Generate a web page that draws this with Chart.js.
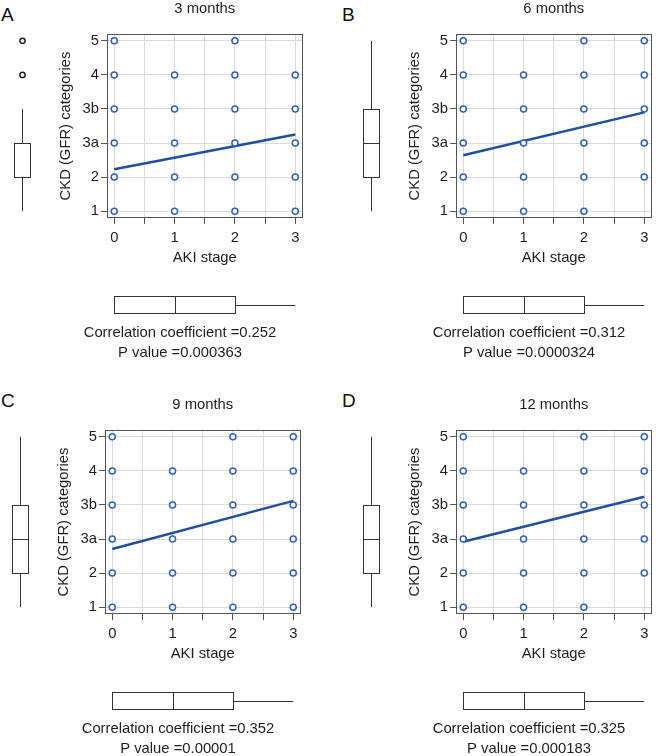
<!DOCTYPE html>
<html>
<head>
<meta charset="utf-8">
<script src="https://cdn.jsdelivr.net/npm/chart.js@4.4.0/dist/chart.umd.min.js"></script>
<style>
html,body{margin:0;padding:0;width:656px;height:756px;overflow:hidden;background:#fff;font-family:'Liberation Sans',Arial,sans-serif;}
canvas{position:absolute;}
.lbl{position:absolute;font-size:19px;line-height:19px;color:#111;}
</style>
</head>
<body>
<div class="lbl" style="left:1px;top:4.5px">A</div>
<div class="lbl" style="left:342px;top:4.5px">B</div>
<div class="lbl" style="left:1px;top:390.5px">C</div>
<div class="lbl" style="left:342px;top:390.5px">D</div>
<canvas id="cA" width="307" height="366" style="left:0px;top:0px"></canvas>
<canvas id="cB" width="307" height="366" style="left:349px;top:0px"></canvas>
<canvas id="cC" width="307" height="366" style="left:-2px;top:396px"></canvas>
<canvas id="cD" width="307" height="366" style="left:349px;top:396px"></canvas>
<script>
// ---------- data ----------
const ckdLevels = ['1', '2', '3a', '3b', '4', '5'];
const akiStages = [0, 1, 2, 3];
const xTickValues = [0, 0.5, 1, 1.5, 2, 2.5, 3];
const xTickLabels = ['0', '', '1', '', '2', '', '3'];
const titles = ['3 months', '6 months', '9 months', '12 months'];

// observed CKD categories for each AKI stage (0,1,2,3)
const pointsA = [['1','2','3a','3b','4','5'], ['1','2','3a','3b','4'], ['1','2','3a','3b','4','5'], ['1','2','3a','3b','4']];
const pointsB = [['1','2','3a','3b','4','5'], ['1','2','3a','3b','4'], ['1','2','3a','3b','4','5'], ['2','3a','3b','4','5']];
const pointsC = [['1','2','3a','3b','4','5'], ['1','2','3a','3b','4'], ['1','2','3a','3b','4','5'], ['1','2','3a','3b','4','5']];
const pointsD = [['1','2','3a','3b','4','5'], ['1','2','3a','3b','4'], ['1','2','3a','3b','4','5'], ['2','3a','3b','4','5']];

// fitted line (category position) at AKI stage 0 and 3
const fitA = [2.23, 3.25];
const fitB = [2.64, 3.90];
const fitC = [2.71, 4.12];
const fitD = [2.92, 4.24];

// CKD box plot: min, q1, median, q3, max (as categories) + outliers
const ckdBoxA = ['1', '2', '2', '3a', '3b'];
const ckdOutliersA = ['4', '5'];
const ckdBoxB = ['1', '2', '3a', '3b', '5'];
const ckdBoxC = ['1', '2', '3a', '3b', '5'];
const ckdBoxD = ['1', '2', '3a', '3b', '5'];

// AKI box plot: min, q1, median, q3, max
const akiBoxA = [0, 0, 1, 2, 3];
const akiBoxB = [0, 0, 1, 2, 3];
const akiBoxC = [0, 0, 1, 2, 3];
const akiBoxD = [0, 0, 1, 2, 3];

const corrValues = ['0.252', '0.312', '0.352', '0.325'];
const pValues = ['0.000363', '0.0000324', '0.00001', '0.000183'];

// ---------- drawing ----------
const PT = '#3260c0';
const LN = '#1f4fa3';
const TXT = '#1e1e1e';
const FS = 14.8;
Chart.defaults.font.family = "'Liberation Sans', Arial, sans-serif";
Chart.defaults.font.size = FS;
Chart.defaults.color = TXT;

const lvl = l => ckdLevels.indexOf(l) + 1;

function makePanel(id, title, points, fit, ckdBox, ckdOut, akiBox, corr, pval) {
  const scatterData = [];
  akiStages.forEach((s, i) => points[i].forEach(l => scatterData.push({x: s, y: lvl(l)})));

  const extras = {
    id: 'panelExtras',
    afterDraw(chart) {
      const {ctx, chartArea: ca, scales: {x, y}} = chart;
      ctx.save();
      // frame
      ctx.strokeStyle = '#555';
      ctx.lineWidth = 1;
      ctx.strokeRect(Math.round(ca.left) + 0.5, Math.round(ca.top) + 0.5,
                     Math.round(ca.right) - Math.round(ca.left) - 1, Math.round(ca.bottom) - Math.round(ca.top) - 1);
      const seg = (x1, y1, x2, y2) => { ctx.beginPath(); ctx.moveTo(x1, y1); ctx.lineTo(x2, y2); ctx.stroke(); };
      ctx.strokeStyle = '#333';
      ctx.lineWidth = 1;
      // vertical CKD box plot (shares y scale)
      const [vmin, vq1, vmed, vq3, vmax] = ckdBox.map(l => y.getPixelForValue(lvl(l)));
      const bx0 = 14.5, bx1 = 30.5, bxc = 22.5;
      seg(bxc, vmin, bxc, vq1);
      seg(bxc, vq3, bxc, vmax);
      ctx.fillStyle = '#fff';
      ctx.fillRect(bx0, vq3, bx1 - bx0, vq1 - vq3);
      ctx.strokeRect(bx0, Math.round(vq3) + 0.5, bx1 - bx0, Math.round(vq1) - Math.round(vq3));
      seg(bx0, Math.round(vmed) + 0.5, bx1, Math.round(vmed) + 0.5);
      ctx.lineWidth = 1.5;
      ctx.strokeStyle = '#222';
      (ckdOut || []).forEach(l => {
        ctx.beginPath();
        ctx.arc(bxc, y.getPixelForValue(lvl(l)), 2.6, 0, Math.PI * 2);
        ctx.stroke();
      });
      // horizontal AKI box plot (shares x scale)
      ctx.lineWidth = 1;
      ctx.strokeStyle = '#333';
      const [hmin, hq1, hmed, hq3, hmax] = akiBox.map(v => x.getPixelForValue(v));
      const by0 = Math.round(ca.bottom) + 78.5, by1 = Math.round(ca.bottom) + 95.5, byc = Math.round(ca.bottom) + 87.5;
      seg(hmin, byc, hq1, byc);
      seg(hq3, byc, hmax, byc);
      ctx.fillStyle = '#fff';
      ctx.fillRect(hq1, by0, hq3 - hq1, by1 - by0);
      ctx.strokeRect(Math.round(hq1) + 0.5, by0, Math.round(hq3) - Math.round(hq1), by1 - by0);
      seg(Math.round(hmed) + 0.5, by0, Math.round(hmed) + 0.5, by1);
      ctx.restore();
    }
  };

  const lh = FS * 1.2;
  return new Chart(document.getElementById(id), {
    type: 'scatter',
    data: {
      datasets: [
        {
          data: scatterData,
          pointRadius: 3, pointHoverRadius: 3,
          borderColor: PT, backgroundColor: '#fff', borderWidth: 1.5
        },
        {
          type: 'line',
          data: [{x: akiStages[0], y: fit[0]}, {x: akiStages[akiStages.length - 1], y: fit[1]}],
          borderColor: LN, borderWidth: 2.5, pointRadius: 0, fill: false
        }
      ]
    },
    options: {
      responsive: false,
      animation: false,
      events: [],
      layout: {padding: {left: 57, right: 4, top: 0, bottom: 0}},
      plugins: {
        legend: {display: false},
        tooltip: {enabled: false},
        title: {
          display: true, text: title, fullSize: false, color: TXT,
          font: {size: FS, weight: 'normal', lineHeight: 1.2},
          padding: {top: 9 - lh / 2, bottom: 34 - (9 - lh / 2) - lh}
        },
        subtitle: {
          display: true, position: 'bottom', fullSize: true, color: TXT,
          text: ['Correlation coefficient =' + corr, 'P value =' + pval],
          font: {size: FS, weight: 'normal', lineHeight: 20 / FS},
          padding: {top: 0, bottom: 3}
        }
      },
      scales: {
        x: {
          type: 'linear', min: -0.12, max: 3.12,
          afterBuildTicks: s => { s.ticks = xTickValues.map(v => ({value: v})); },
          afterFit: s => { s.height = 105; },
          ticks: {callback: (v, i) => xTickLabels[i], color: TXT, padding: 19.5 - 6 - lh / 2, maxRotation: 0, autoSkip: false, font: {size: FS}},
          grid: {color: '#dadada', tickColor: '#555', tickLength: 6, lineWidth: 1},
          border: {display: false},
          title: {display: true, text: 'AKI stage', color: TXT, font: {size: FS}, padding: {top: 0, bottom: 105 - 39.5 - lh / 2}}
        },
        y: {
          type: 'linear', min: 0.8, max: 6.2,
          afterBuildTicks: s => { s.ticks = ckdLevels.map((l, i) => ({value: i + 1})); },
          afterFit: s => { s.width = 50; },
          ticks: {callback: (v, i) => ckdLevels[i], color: TXT, padding: 2, autoSkip: false, font: {size: FS}},
          grid: {color: '#dadada', tickColor: '#555', tickLength: 6, lineWidth: 1},
          border: {display: false},
          title: {display: true, text: 'CKD (GFR) categories', color: TXT, font: {size: FS}, padding: {top: 9 - lh / 2, bottom: 0}}
        }
      }
    },
    plugins: [extras]
  });
}

makePanel('cA', titles[0], pointsA, fitA, ckdBoxA, ckdOutliersA, akiBoxA, corrValues[0], pValues[0]);
makePanel('cB', titles[1], pointsB, fitB, ckdBoxB, [], akiBoxB, corrValues[1], pValues[1]);
makePanel('cC', titles[2], pointsC, fitC, ckdBoxC, [], akiBoxC, corrValues[2], pValues[2]);
makePanel('cD', titles[3], pointsD, fitD, ckdBoxD, [], akiBoxD, corrValues[3], pValues[3]);
</script>
</body>
</html>
